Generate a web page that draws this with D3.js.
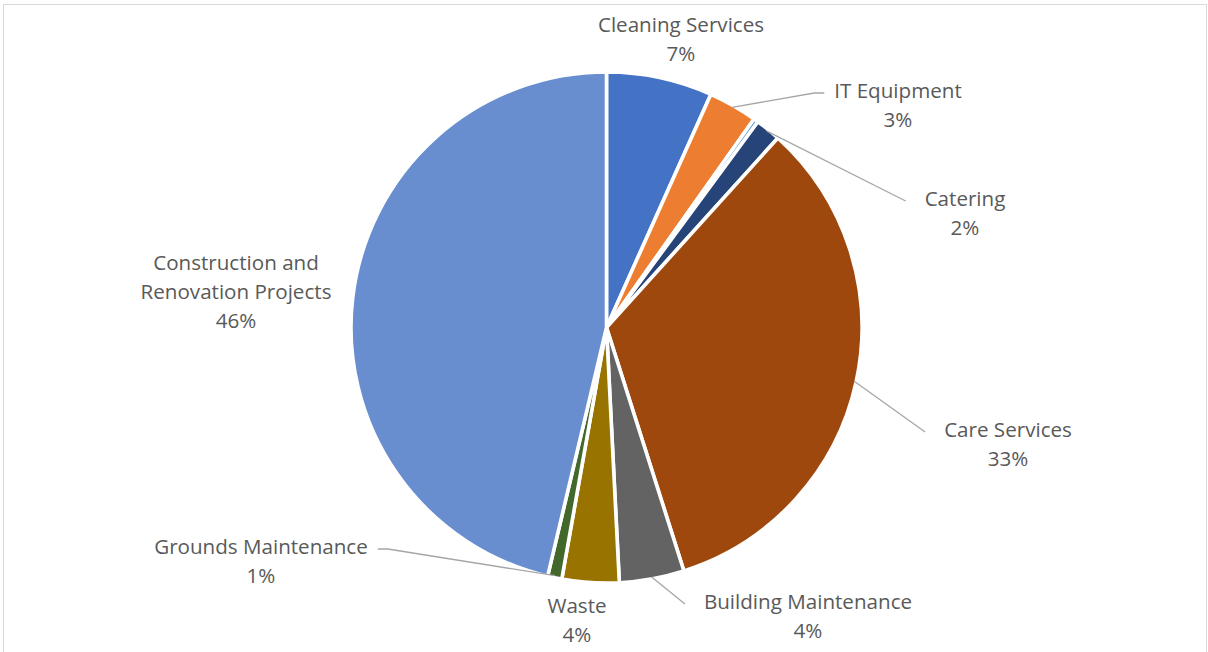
<!DOCTYPE html>
<html>
<head>
<meta charset="utf-8">
<script src="https://cdn.jsdelivr.net/npm/d3@7"></script>
<style>
  html, body { margin: 0; padding: 0; background: #ffffff; }
  svg { display: block; }
  .lbl { font-family: "Open Sans", Lato, sans-serif; font-size: 20.6px; fill: #595959; }
</style>
</head>
<body>
<svg id="chart" width="1208" height="652"></svg>
<script>
// Spend by category (percent of total)
const categories = [
  "Cleaning Services",
  "IT Equipment",
  "Other",
  "Catering",
  "Care Services",
  "Building Maintenance",
  "Waste",
  "Grounds Maintenance",
  "Construction and Renovation Projects"
];
const shares = [6.7, 3.1, 0.3, 1.6, 33.4, 4.1, 3.6, 0.9, 46.3];
const sliceColors = [
  "#4472C4", "#ED7D31", "#5B9BD5", "#264478", "#9E480E",
  "#636363", "#997300", "#43682B", "#698ED0"
];

// Label placement: centre x and first baseline, line breaks, leader side
const labelLayout = {
  "Cleaning Services": { x: 681, y: 32, lines: ["Cleaning Services"] },
  "IT Equipment": { x: 898, y: 98, lines: ["IT Equipment"], leader: "left", elbow: true },
  "Catering": { x: 965, y: 206, lines: ["Catering"], leader: "left" },
  "Care Services": { x: 1008, y: 437, lines: ["Care Services"], leader: "left" },
  "Building Maintenance": { x: 808, y: 609, lines: ["Building Maintenance"], leader: "left" },
  "Waste": { x: 577, y: 613, lines: ["Waste"] },
  "Grounds Maintenance": { x: 261, y: 554, lines: ["Grounds Maintenance"], leader: "right", elbow: true },
  "Construction and Renovation Projects": { x: 236, y: 270, lines: ["Construction and", "Renovation Projects"] }
};

const svg = d3.select("#chart");
const W = 1208, H = 652;
const cx = 606.5, cy = 327.5, R = 255.5;
const lineH = 29;

// chart area frame
svg.append("rect")
  .attr("x", 3.5).attr("y", 4.5)
  .attr("width", W - 5).attr("height", H + 20)
  .attr("fill", "#ffffff")
  .attr("stroke", "#d9d9d9").attr("stroke-width", 1);

const data = categories.map((c, i) => ({ name: c, value: shares[i], color: sliceColors[i] }));
const total = d3.sum(shares);
const pct = d3.format(".0%");

const pie = d3.pie().sort(null).value(d => d.value).startAngle(0).endAngle(2 * Math.PI);
const arcs = pie(data);
const arc = d3.arc().innerRadius(0).outerRadius(R);

const g = svg.append("g").attr("transform", `translate(${cx},${cy})`);

g.selectAll("path.slice")
  .data(arcs)
  .join("path")
  .attr("class", "slice")
  .attr("d", arc)
  .attr("fill", d => d.data.color)
  .attr("stroke", "#ffffff")
  .attr("stroke-width", 3.6)
  .attr("stroke-linejoin", "round");

// data labels with leader lines
const labelG = svg.append("g");
const leaderG = svg.append("g");
const rEdge = R - 2;

arcs.forEach(a => {
  const lay = labelLayout[a.data.name];
  if (!lay) return;
  const lines = lay.lines.concat([pct(a.data.value / total)]);
  const t = labelG.append("text")
    .attr("class", "lbl")
    .attr("text-anchor", "middle");
  lines.forEach((ln, i) => {
    t.append("tspan").attr("x", lay.x).attr("y", lay.y + i * lineH).text(ln);
  });
  if (!lay.leader) return;
  const w = t.select("tspan").node().getComputedTextLength();
  const mid = (a.startAngle + a.endAngle) / 2;
  const sx = cx + rEdge * Math.sin(mid);
  const sy = cy - rEdge * Math.cos(mid);
  const dir = lay.leader === "left" ? -1 : 1;
  const edge = lay.x + dir * w / 2;
  const ly = lay.y - 5;
  const pts = [[sx, sy]];
  if (lay.elbow) {
    pts.push([edge + dir * 20, ly]);
    pts.push([edge + dir * 10, ly]);
  } else {
    pts.push([edge + dir * 19, ly]);
  }
  leaderG.append("path")
    .attr("d", d3.line()(pts))
    .attr("fill", "none")
    .attr("stroke", "#a6a6a6")
    .attr("stroke-width", 1.3);
});
</script>
</body>
</html>
